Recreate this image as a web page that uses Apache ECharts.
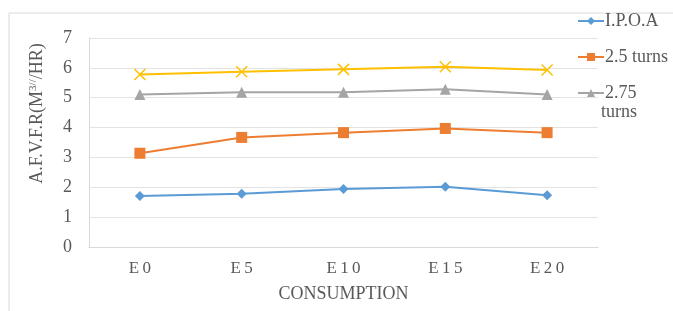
<!DOCTYPE html>
<html>
<head>
<meta charset="utf-8">
<script src="https://cdn.jsdelivr.net/npm/echarts@6/dist/echarts.min.js"></script>
<style>
html, body { margin: 0; padding: 0; background: #fff; }
#mybox { width: 673px; height: 311px; }
</style>
</head>
<body>
<div id="mybox"></div>
<script>
// data
var categories = ['E0', 'E5', 'E10', 'E15', 'E20'];
var ipoa = [1.71, 1.78, 1.94, 2.02, 1.73];
var turns25 = [3.14, 3.67, 3.83, 3.97, 3.83];
var turns275 = [5.11, 5.18, 5.18, 5.28, 5.11];
var extra = [5.78, 5.87, 5.95, 6.04, 5.93];
var yTicks = [0, 1, 2, 3, 4, 5, 6, 7];

var mycharts = echarts.init(document.getElementById('mybox'));

var font = 'Liberation Serif, Times New Roman, serif';
var txt = '#595959';

var optionObj = {
    animation: false,
    backgroundColor: '#fff',
    textStyle: { fontFamily: font },
    grid: { left: 89, right: 75, top: 38, bottom: 64 },
    graphic: [
        // frame round the chart
        {
            type: 'rect',
            shape: { x: 9, y: 13, width: 700, height: 320 },
            style: { fill: 'none', stroke: '#d9d9d9', lineWidth: 1 },
            z: -1
        },
        // second line of the last legend label
        {
            type: 'text',
            left: 601,
            top: 103,
            style: { text: 'turns', font: '18px ' + font, fill: txt }
        }
    ],
    legend: {
        orient: 'vertical',
        left: 572,
        top: 7,
        itemGap: 18,
        itemWidth: 26,
        itemHeight: 10,
        data: ['I.P.O.A', '2.5 turns', '2.75 turns'],
        formatter: function (name) {
            return name === '2.75 turns' ? '2.75' : name;
        },
        textStyle: { fontFamily: font, fontSize: 18, color: txt, padding: [0, 0, 0, -4] }
    },
    xAxis: {
        type: 'category',
        data: categories,
        boundaryGap: true,
        name: 'CONSUMPTION',
        nameLocation: 'middle',
        nameGap: 38,
        nameTextStyle: { fontFamily: font, fontSize: 18, color: txt },
        axisLine: { lineStyle: { color: '#d9d9d9' } },
        axisTick: { show: false },
        axisLabel: {
            fontFamily: font, fontSize: 17, color: txt, margin: 13,
            formatter: function (v) { return v.split('').join('\u2009'); }
        }
    },
    yAxis: {
        type: 'value',
        min: yTicks[0],
        max: yTicks[yTicks.length - 1],
        interval: 1,
        name: 'A.F.V.F.R(M{s|3//}/HR)',
        nameLocation: 'middle',
        nameGap: 43,
        nameTextStyle: {
            fontFamily: font, fontSize: 18, color: txt, padding: [0, 0, 0, 58],
            rich: { s: { fontFamily: font, fontSize: 11, color: txt, verticalAlign: 'top', padding: [0, 0, 6, 0] } }
        },
        axisLine: { show: true, lineStyle: { color: '#d9d9d9' } },
        axisLabel: { fontFamily: font, fontSize: 18, color: txt, margin: 17 },
        splitLine: { lineStyle: { color: '#e3e3e3' } }
    },
    series: [
        {
            name: 'I.P.O.A', type: 'line', data: ipoa,
            symbol: 'diamond', symbolSize: 10,
            itemStyle: { color: '#5b9bd5' }, lineStyle: { width: 2 }
        },
        {
            name: '2.5 turns', type: 'line', data: turns25,
            symbol: 'rect', symbolSize: 11,
            itemStyle: { color: '#ed7d31' }, lineStyle: { width: 2 }
        },
        {
            name: '2.75 turns', type: 'line', data: turns275,
            symbol: 'triangle', symbolSize: 11,
            itemStyle: { color: '#a5a5a5' }, lineStyle: { width: 2 }
        },
        {
            name: 'series4', type: 'line', data: extra,
            symbol: 'path://M0,0 L10,10 M10,0 L0,10', symbolSize: 11,
            itemStyle: { color: 'none', borderColor: '#ffc000', borderWidth: 1.5 },
            lineStyle: { width: 2, color: '#ffc000' }
        }
    ]
};

mycharts.setOption(optionObj);
</script>
</body>
</html>
